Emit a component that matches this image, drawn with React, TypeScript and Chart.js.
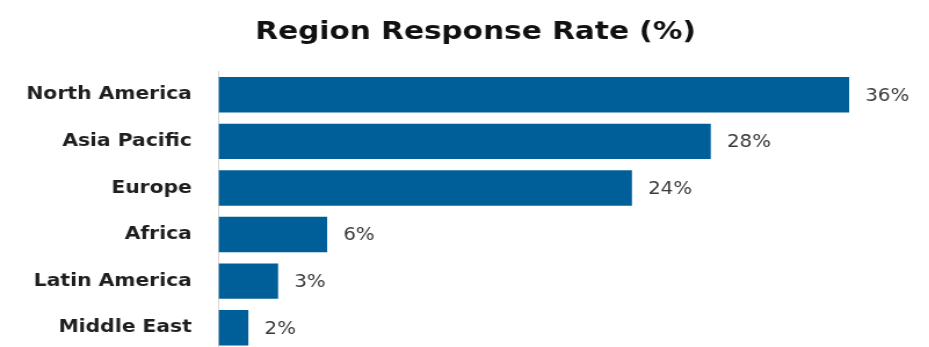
import React, { useEffect, useRef } from "react";
import { Chart, registerables } from "chart.js";

Chart.register(...registerables);

const categories: string[] = [
  "North America",
  "Asia Pacific",
  "Europe",
  "Africa",
  "Latin America",
  "Middle East",
];
const responseRates: number[] = [36, 28.1, 23.6, 6.2, 3.4, 1.7];
const chartTitle = "Region Response Rate (%)";

const STRETCH = 1.16;
const CANVAS_W = 801;
const CANVAS_H = 351;

const valueLabelPlugin = {
  id: "valueLabels",
  afterDatasetsDraw(chart: any) {
    const { ctx } = chart;
    const meta = chart.getDatasetMeta(0);
    ctx.save();
    ctx.font = "17px 'DejaVu Sans'";
    ctx.fillStyle = "#3a3a3a";
    ctx.textAlign = "left";
    ctx.textBaseline = "middle";
    meta.data.forEach((el: any, i: number) => {
      const v = chart.data.datasets[0].data[i] as number;
      ctx.fillText(`${Math.round(v)}%`, el.x + 14, el.y + 1.5);
    });
    ctx.restore();
  },
};

export default function App() {
  const ref = useRef<HTMLCanvasElement | null>(null);

  useEffect(() => {
    if (!ref.current) return;
    const chart = new Chart(ref.current, {
      type: "bar",
      data: {
        labels: categories,
        datasets: [
          {
            data: responseRates,
            backgroundColor: "#005f98",
            borderWidth: 0,
            barPercentage: 0.76,
            categoryPercentage: 1,
          },
        ],
      },
      options: {
        indexAxis: "y",
        responsive: false,
        animation: false,
        devicePixelRatio: 1,
        layout: { autoPadding: false, padding: { left: 20, right: 1, top: 0, bottom: 0 } },
        plugins: {
          legend: { display: false },
          tooltip: { enabled: false },
          title: {
            display: true,
            text: chartTitle,
            color: "#111111",
            font: { family: "'DejaVu Sans'", size: 25.5, weight: "bold", lineHeight: 1.2 },
            padding: { top: 17.2, bottom: 23.7 },
          },
        },
        scales: {
          x: {
            display: false,
            min: 0,
            max: 40.5,
          },
          y: {
            grid: { display: false, drawTicks: false },
            border: { display: true, color: "#d4d4d4", width: 1 },
            ticks: {
              color: "#1f1f1f",
              padding: 23,
              font: { family: "'DejaVu Sans'", size: 17.5, weight: "bold" },
            },
            afterFit: (scale: any) => {
              scale.width = 168.4;
              scale.paddingTop = 0;
              scale.paddingBottom = 0;
            },
          },
        },
      },
      plugins: [valueLabelPlugin],
    });
    return () => chart.destroy();
  }, []);

  return (
    <div
      style={{
        position: "fixed",
        left: 0,
        top: 0,
        width: 929,
        height: 347,
        overflow: "hidden",
        background: "#ffffff",
      }}
    >
      <canvas
        ref={ref}
        width={CANVAS_W}
        height={CANVAS_H}
        style={{
          display: "block",
          transform: `scaleX(${STRETCH})`,
          transformOrigin: "0 0",
        }}
      />
    </div>
  );
}
